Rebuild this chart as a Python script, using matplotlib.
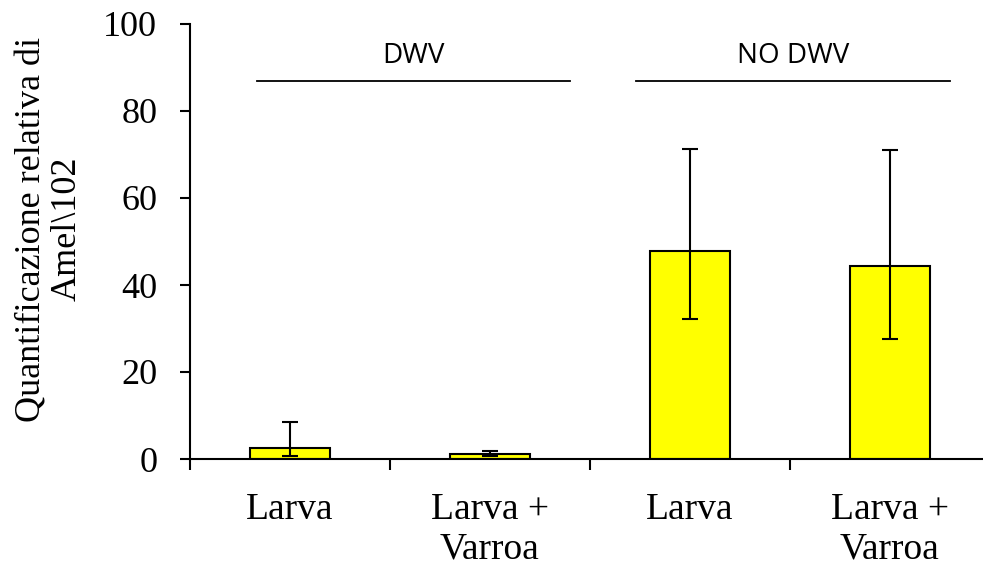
import numpy as np
import matplotlib.pyplot as plt
from matplotlib.ticker import FixedLocator, NullFormatter

# Dati: media e limiti dell'intervallo di errore (asimmetrico)
categorie = ['Larva', 'Larva +\nVarroa', 'Larva', 'Larva +\nVarroa']
medie = [2.5, 1.1, 47.9, 44.4]
err_sup = [8.4, 1.8, 71.3, 71.1]
err_inf = [0.8, 0.7, 32.2, 27.6]
gruppi = ['DWV', 'NO DWV']

x = np.arange(len(categorie))
yerr = np.array([np.array(medie) - np.array(err_inf),
                 np.array(err_sup) - np.array(medie)])

fig = plt.figure(figsize=(9.83, 5.67), dpi=100)
ax = fig.add_axes([190 / 983, 1 - 459 / 567, 800 / 983, 435 / 567])

serif = ['Liberation Serif', 'DejaVu Serif']

ax.bar(x, medie, width=0.4, color='#ffff00', edgecolor='black', linewidth=1.5,
       yerr=yerr, capsize=5.8, error_kw=dict(elinewidth=1.5, capthick=1.5, ecolor='black'),
       zorder=2)

ax.set_xlim(-0.5, 3.5)
ax.set_ylim(0, 100)
ax.set_yticks([0, 20, 40, 60, 80, 100])
for lab in ax.get_yticklabels():
    lab.set_family(serif)
    lab.set_fontsize(26)

# tacche ai bordi delle categorie, etichette al centro delle barre
ax.xaxis.set_major_locator(FixedLocator([-0.5, 0.5, 1.5, 2.5, 3.5]))
ax.xaxis.set_major_formatter(NullFormatter())
ax.xaxis.set_minor_locator(FixedLocator(x))
ax.set_xticklabels(categorie, minor=True, family=serif, fontsize=27, linespacing=1.2)
ax.tick_params(axis='x', which='minor', length=0, pad=24)
ax.tick_params(axis='x', which='major', length=8, width=1.5, direction='out')
ax.tick_params(axis='y', length=7.5, width=1.5, direction='out', pad=16)

for s in ['top', 'right']:
    ax.spines[s].set_visible(False)
for s in ['left', 'bottom']:
    ax.spines[s].set_linewidth(1.5)

fig.text(50 / 983, 1 - 229 / 567, 'Quantificazione relativa di\nAmel\\102',
         family=serif, fontsize=26, rotation=90, ha='center', va='center',
         linespacing=1.08)

# linee e titoli dei gruppi
linee = [(-0.165, 1.4), (1.73, 3.3)]
for (x0, x1), nome in zip(linee, gruppi):
    ax.plot([x0, x1], [86.8, 86.8], color='black', linewidth=1.3, clip_on=False)
    ax.text((x0 + x1) / 2, 91.0, nome, ha='center', va='baseline',
            family=['Open Sans', 'DejaVu Sans'], fontsize=20)

fig.savefig('out.png', dpi=100)
